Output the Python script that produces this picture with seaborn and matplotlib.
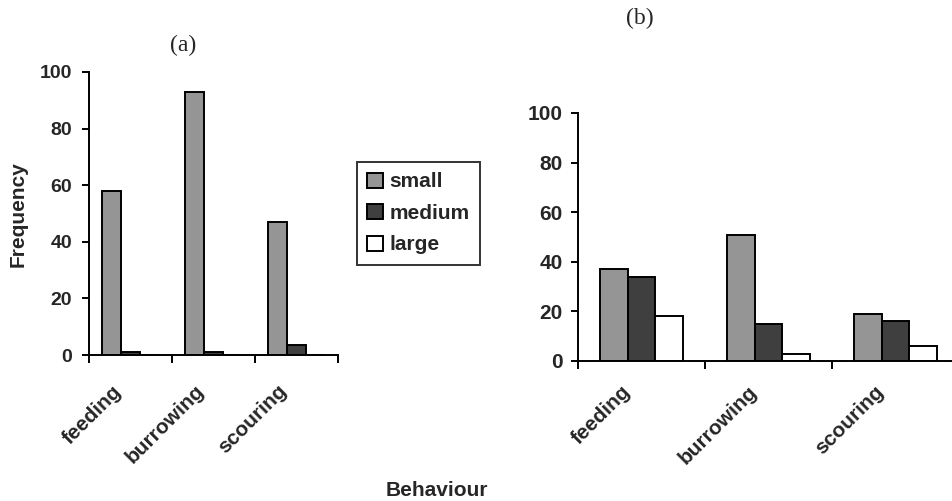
import numpy as np
import pandas as pd
import matplotlib
matplotlib.use("Agg")
import matplotlib.pyplot as plt
import matplotlib.transforms as mtransforms
import seaborn as sns

# data
behaviours = ["feeding", "burrowing", "scouring"]
sizes = ["small", "medium", "large"]
freq_a_small = [58, 93, 47]
freq_a_medium = [1, 1, 3.5]
freq_a_large = [0, 0, 0]
freq_b_small = [37, 51, 19]
freq_b_medium = [34, 15, 16]
freq_b_large = [18, 3, 6]

bar_colors = ["#959595", "#3f3f3f", "#ffffff"]


def to_long(small, medium, large):
    rows = []
    for vals, s in zip([small, medium, large], sizes):
        for b, v in zip(behaviours, vals):
            rows.append({"behaviour": b, "size": s, "frequency": v})
    return pd.DataFrame(rows)


df_a = to_long(freq_a_small, freq_a_medium, freq_a_large)
df_b = to_long(freq_b_small, freq_b_medium, freq_b_large)

sns.set_theme(style="white")
plt.rcParams["font.family"] = ["Liberation Sans", "DejaVu Sans"]
plt.rcParams["font.weight"] = "bold"

fig = plt.figure(figsize=(9.52, 5.01), dpi=100)
fig.patch.set_facecolor("white")

ax_a = fig.add_axes([89 / 952, 1 - 355 / 501, 249 / 952, 283 / 501])
ax_b = fig.add_axes([578 / 952, 1 - 361 / 501, 381 / 952, 248 / 501])


def draw(ax, df, width, ytick_size, ypad, lab_dx, lab_pad):
    sns.barplot(data=df, x="behaviour", y="frequency", hue="size",
                order=behaviours, hue_order=sizes, palette=bar_colors,
                edgecolor="black", linewidth=1.4, width=width,
                errorbar=None, ax=ax, legend=True)
    ax.set_facecolor("white")
    ax.set_xlim(-0.5, 2.5)
    ax.set_ylim(0, 100)
    ax.set_yticks([0, 20, 40, 60, 80, 100])
    ax.set_xlabel("")
    ax.set_ylabel("")
    for side in ["top", "right"]:
        ax.spines[side].set_visible(False)
    for side in ["left", "bottom"]:
        ax.spines[side].set_color("black")
        ax.spines[side].set_linewidth(1.4)
    ax.tick_params(axis="y", which="major", left=True, direction="out",
                   length=5, width=1.4, color="black",
                   labelsize=ytick_size, pad=ypad)
    # tick marks between categories, labels at category centres
    ax.set_xticks([-0.5, 0.5, 1.5, 2.5], minor=True)
    ax.tick_params(axis="x", which="minor", bottom=True, direction="out",
                   length=6, width=1.4, color="black")
    ax.tick_params(axis="x", which="major", bottom=True, length=0,
                   pad=lab_pad)
    ax.set_xticks(range(len(behaviours)))
    ax.set_xticklabels(behaviours, rotation=45, ha="right",
                       rotation_mode="anchor", fontsize=15,
                       fontweight="bold")
    shift = mtransforms.ScaledTranslation(lab_dx / 100, 0, fig.dpi_scale_trans)
    for lab in ax.get_xticklabels():
        lab.set_transform(lab.get_transform() + shift)
    for lab in ax.get_yticklabels():
        lab.set_fontweight("bold")


draw(ax_a, df_a, 0.684, 14, 7, -19, 19)
draw(ax_b, df_b, 0.65, 15, 6, -21, 15)

handles, labels = ax_a.get_legend_handles_labels()
ax_a.get_legend().remove()
ax_b.get_legend().remove()

leg = fig.legend(handles, labels, loc="upper left",
                 bbox_to_anchor=(357 / 952, 1 - 162 / 501),
                 frameon=True, fancybox=False, edgecolor="black",
                 handlelength=0.75, handleheight=0.75, handletextpad=0.3,
                 labelspacing=0.6, borderpad=0.5, borderaxespad=0,
                 prop={"size": 15, "weight": "bold"})
leg.get_frame().set_linewidth(1.4)
leg.get_frame().set_facecolor("white")

fig.text(183 / 952, 1 - 45 / 501, "(a)", ha="center", va="center",
         fontsize=17, fontweight="normal",
         family=["Liberation Serif", "DejaVu Serif"])
fig.text(640 / 952, 1 - 18 / 501, "(b)", ha="center", va="center",
         fontsize=17, fontweight="normal",
         family=["Liberation Serif", "DejaVu Serif"])
fig.text(18 / 952, 1 - 214 / 501, "Frequency", ha="center", va="center",
         rotation=90, fontsize=15, fontweight="bold")
fig.text(437 / 952, 1 - 490 / 501, "Behaviour", ha="center", va="center",
         fontsize=15, fontweight="bold")

fig.savefig("out.png", dpi=100, facecolor="white")
